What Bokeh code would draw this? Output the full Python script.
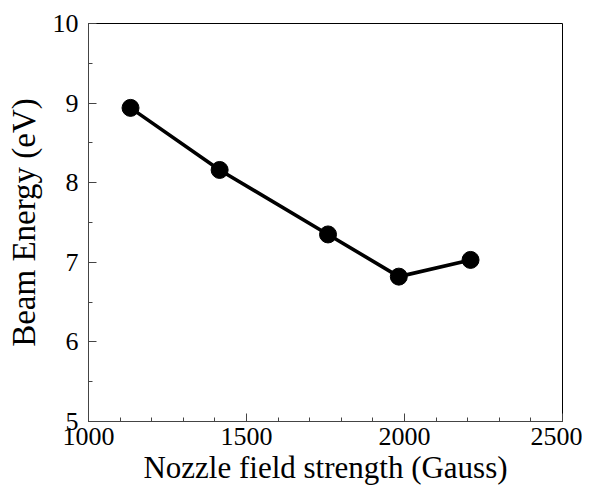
from bokeh.plotting import figure
from bokeh.models import Range1d, SingleIntervalTicker
from bokeh.embed import file_html
from bokeh.resources import INLINE

field_gauss = [1133, 1415, 1758, 1982, 2209]
beam_energy = [8.94, 8.16, 7.35, 6.82, 7.03]

x_label = "Nozzle field strength (Gauss)"
y_label = "Beam Energy (eV)"

FONT = "Liberation Serif"

p = figure(frame_width=474, frame_height=398, output_backend="svg",
           toolbar_location=None, x_range=Range1d(1000, 2500), y_range=Range1d(5, 10),
           min_border_left=88, min_border_top=23, min_border_right=20, min_border_bottom=5)

p.line(field_gauss, beam_energy, line_color="black", line_width=3.6)
p.scatter(field_gauss, beam_energy, size=17, fill_color="black", line_color="black")

p.xgrid.visible = False
p.ygrid.visible = False
p.outline_line_color = "black"
p.outline_line_width = 1
p.outline_line_alpha = 1

p.xaxis.ticker = SingleIntervalTicker(interval=500, num_minor_ticks=5)
p.yaxis.ticker = SingleIntervalTicker(interval=1, num_minor_ticks=2)

for ax in (p.xaxis, p.yaxis):
    ax.axis_line_color = "#444444"
    ax.major_tick_in = 8
    ax.major_tick_out = 0
    ax.minor_tick_in = 4
    ax.minor_tick_out = 0
    ax.major_tick_line_color = "#444444"
    ax.minor_tick_line_color = "#444444"
    ax.major_label_text_font = FONT
    ax.major_label_text_font_size = "26px"
    ax.major_label_text_color = "black"
    ax.axis_label_text_font = FONT
    ax.axis_label_text_font_style = "normal"
    ax.axis_label_text_color = "black"

p.xaxis.axis_label = x_label
p.yaxis.axis_label = y_label
p.xaxis.axis_label_text_font_size = "31px"
p.yaxis.axis_label_text_font_size = "33px"
p.xaxis.major_label_standoff = 6
p.xaxis.axis_label_standoff = 2
p.yaxis.major_label_standoff = 10
p.yaxis.axis_label_standoff = 8

open("out.html", "w").write(file_html(p, INLINE))
